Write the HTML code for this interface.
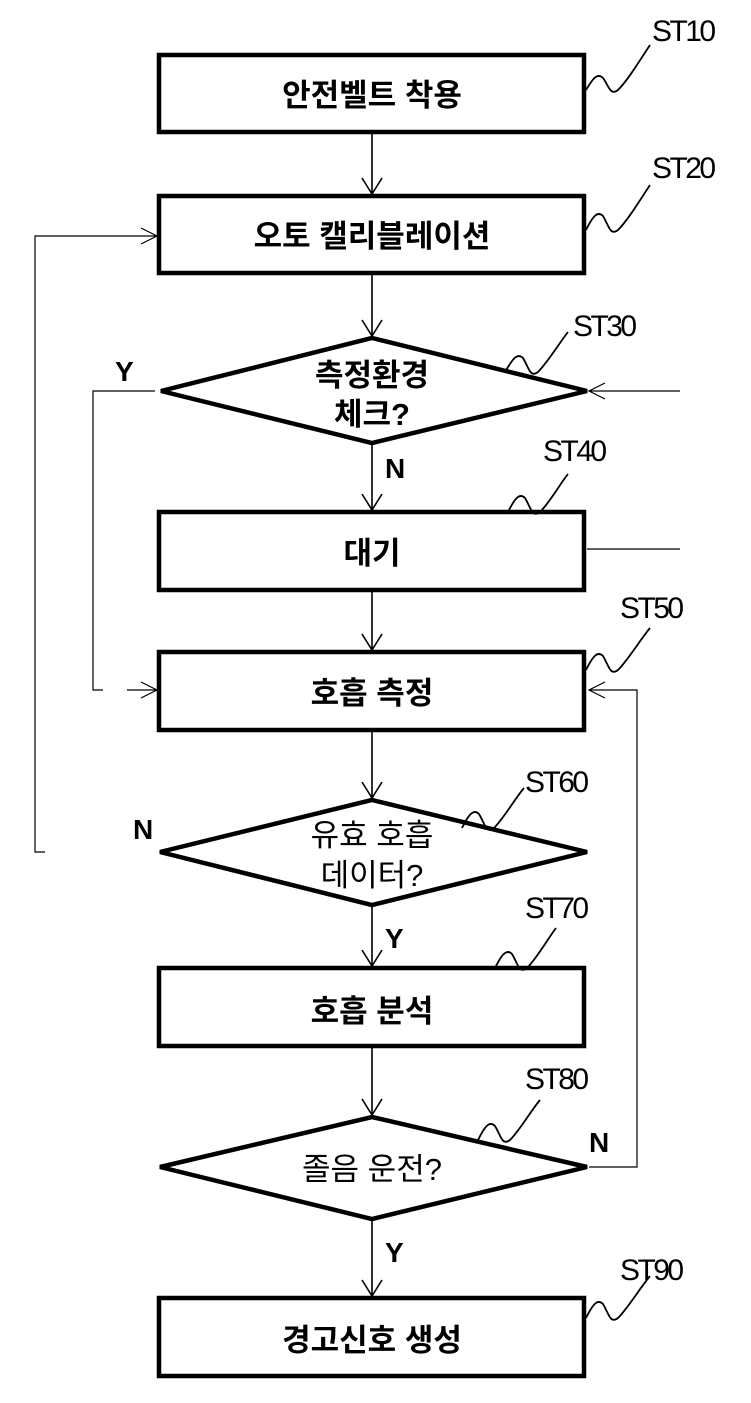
<!DOCTYPE html>
<html><head><meta charset="utf-8"><style>
html,body{margin:0;padding:0;background:#fff;}
svg{display:block}
.b{font-family:"Liberation Sans","Noto Sans CJK KR",sans-serif;font-weight:bold;font-size:31px;fill:#000;text-anchor:middle}
.n{font-family:"Liberation Sans","Noto Sans CJK KR",sans-serif;font-size:31px;fill:#000;text-anchor:middle}
.l{font-family:"Liberation Sans Narrow","Liberation Sans",sans-serif;font-size:30px;fill:#000}
.yn{font-family:"Liberation Sans",sans-serif;font-weight:bold;font-size:28px;fill:#000}
</style></head><body>
<svg width="751" height="1403" viewBox="0 0 751 1403" xmlns="http://www.w3.org/2000/svg">
<g fill="none" stroke="#000" stroke-width="4.5">
<rect x="159" y="55" width="425" height="77"/>
<rect x="159" y="196" width="425" height="77"/>
<polygon points="372,338 587,391 372,443 161,391"/>
<rect x="159" y="512" width="425" height="78"/>
<rect x="159" y="652" width="425" height="78"/>
<polygon points="372,800 587,852 372,905 160,852"/>
<rect x="159" y="968" width="425" height="78"/>
<polygon points="372,1117 587,1167 372,1219 160,1167"/>
<rect x="159" y="1298" width="425" height="78"/>
</g>
<g fill="none" stroke="#000" stroke-width="1.6">
<path d="M372,132V194M362,178L372,194L382,178"/>
<path d="M372,273V336M362,320L372,336L382,320"/>
<path d="M372,443V510M362,494L372,510L382,494"/>
<path d="M372,590V650M362,634L372,650L382,634"/>
<path d="M372,730V798M362,782L372,798L382,782"/>
<path d="M372,905V966M362,950L372,966L382,950"/>
<path d="M372,1046V1115M362,1099L372,1115L382,1099"/>
<path d="M372,1219V1296M362,1280L372,1296L382,1280"/>
</g>
<g fill="none" stroke="#000" stroke-width="1.2">
<path d="M45,852H35V236H157M141,228L157,236L141,244"/>
<path d="M155,391H93V690H103"/>
<path d="M127,690H157M141,682L157,690L141,698"/>
<path d="M680,391H589M605,383L589,391L605,399"/>
<path d="M587,549H680"/>
<path d="M589,1167H637V690H589M605,682L589,690L605,698"/>
</g>
<g fill="none" stroke="#000" stroke-width="1.8">
<path d="M586,90C592,80 597,72 603,78C609,86 610,96 618,90C628,80 640,60 650,45"/>
<path d="M586,230C592,218 597,210 603,216C609,226 610,236 618,230C628,220 640,200 650,185"/>
<path d="M505,372C512,360 517,352 523,358C529,368 530,378 538,372C548,362 560,342 568,332"/>
<path d="M508,512C514,500 519,492 525,498C531,508 532,518 540,512C550,502 560,484 568,474"/>
<path d="M586,670C592,658 597,650 603,656C609,666 610,676 618,670C628,660 640,640 650,628"/>
<path d="M462,828C468,816 473,808 479,814C485,824 486,834 494,828C504,818 514,800 524,788"/>
<path d="M495,968C501,956 506,948 512,954C518,964 519,974 527,968C537,958 547,940 556,928"/>
<path d="M478,1140C484,1128 489,1120 495,1126C501,1136 502,1146 510,1140C520,1130 530,1112 540,1100"/>
<path d="M586,1318C592,1306 597,1298 603,1304C609,1314 610,1324 618,1318C628,1308 640,1288 650,1276"/>
</g>
<text class="l" x="652" y="41" textLength="64">ST10</text>
<text class="l" x="652" y="178" textLength="64">ST20</text>
<text class="l" x="573" y="336" textLength="64">ST30</text>
<text class="l" x="543" y="461" textLength="64">ST40</text>
<text class="l" x="620" y="618" textLength="64">ST50</text>
<text class="l" x="525" y="792" textLength="64">ST60</text>
<text class="l" x="525" y="918" textLength="64">ST70</text>
<text class="l" x="525" y="1089" textLength="64">ST80</text>
<text class="l" x="620" y="1280" textLength="64">ST90</text>
<text class="b" x="372" y="106">안전벨트 착용</text>
<text class="b" x="372" y="247">오토 캘리블레이션</text>
<text class="b" x="372" y="386">측정환경</text>
<text class="b" x="372" y="425">체크?</text>
<text class="b" x="372" y="564">대기</text>
<text class="b" x="372" y="704">호흡 측정</text>
<text class="n" x="372" y="846">유효 호흡</text>
<text class="n" x="372" y="886">데이터?</text>
<text class="b" x="372" y="1022">호흡 분석</text>
<text class="n" x="372" y="1180">졸음 운전?</text>
<text class="b" x="372" y="1351">경고신호 생성</text>
<text class="yn" x="115" y="381">Y</text>
<text class="yn" x="385" y="478">N</text>
<text class="yn" x="133" y="839">N</text>
<text class="yn" x="385" y="948">Y</text>
<text class="yn" x="589" y="1152">N</text>
<text class="yn" x="385" y="1262">Y</text>
</svg>
</body></html>
